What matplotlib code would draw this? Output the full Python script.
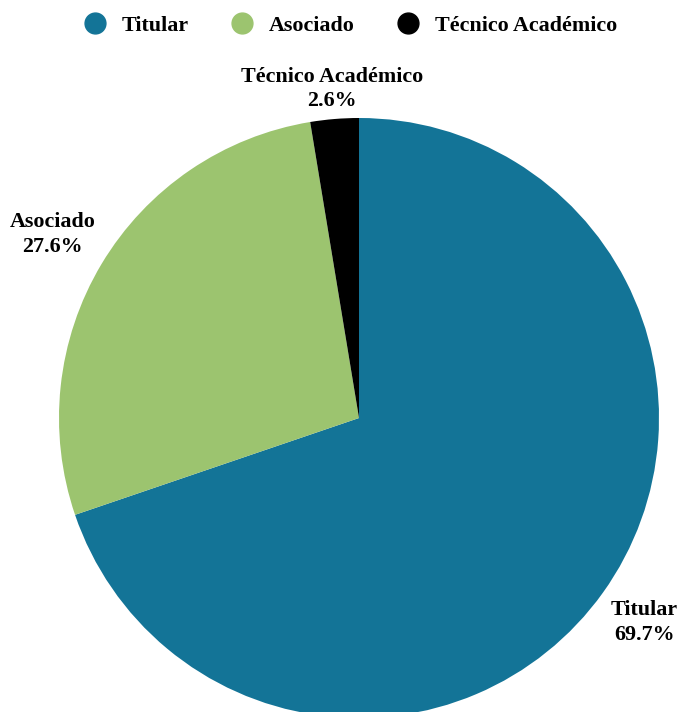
import matplotlib.pyplot as plt
import numpy as np
from matplotlib.lines import Line2D

categories = ["Titular", "Asociado", "Técnico Académico"]
shares = [69.7, 27.6, 2.6]
colors = ["#137497", "#9cc46f", "#000000"]
label_dist = [1.17, 1.19, 1.10]

plt.rcParams["font.family"] = ["Liberation Serif", "DejaVu Serif"]
plt.rcParams["font.weight"] = "bold"

W, H = 682, 712
fig = plt.figure(figsize=(W / 100, H / 100), dpi=100)
cx, cy, r = 359, 418, 300
ax = fig.add_axes([(cx - r) / W, (H - cy - r) / H, 2 * r / W, 2 * r / H])

wedges, _ = ax.pie(shares, colors=colors, startangle=90, counterclock=False,
                   radius=1, wedgeprops=dict(linewidth=0))
ax.set_xlim(-1, 1)
ax.set_ylim(-1, 1)
ax.set_aspect("equal")
ax.axis("off")

for w, name, val, d in zip(wedges, categories, shares, label_dist):
    mid = np.deg2rad((w.theta1 + w.theta2) / 2)
    ax.text(d * np.cos(mid), d * np.sin(mid), f"{name}\n{val:.1f}%",
            ha="center", va="center", fontsize=15.8, fontweight="bold",
            linespacing=1.3, clip_on=False)

handles = [Line2D([0], [0], marker="o", linestyle="", markersize=15,
                  markerfacecolor=c, markeredgecolor=c) for c in colors]
fig.legend(handles, categories, loc="upper center", ncol=3, frameon=False,
           bbox_to_anchor=(0.506, 1.006), prop=dict(size=15.8, weight="bold"),
           handletextpad=0.2, columnspacing=1.45)

fig.savefig("out.png", dpi=100)
